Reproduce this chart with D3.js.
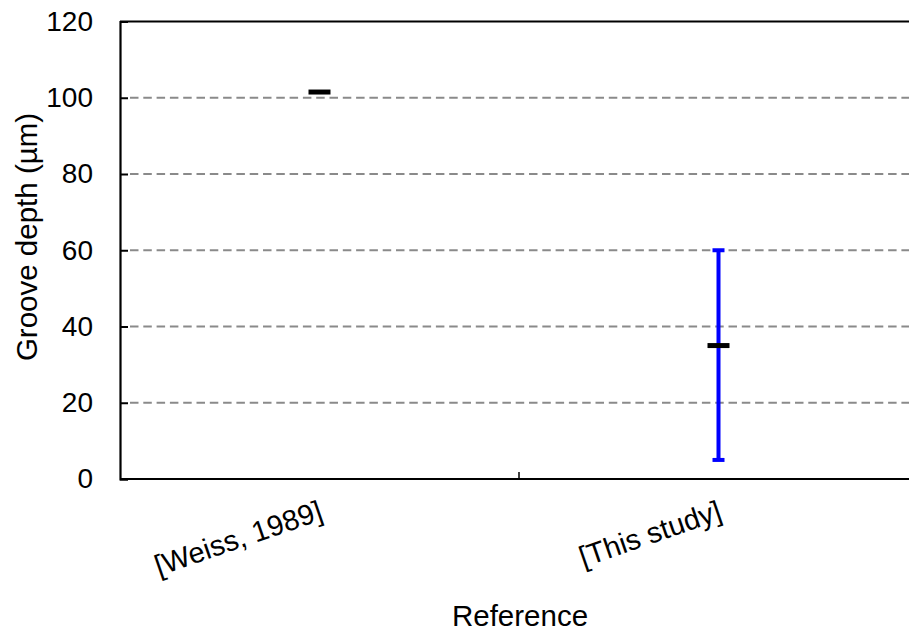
<!DOCTYPE html>
<html>
<head>
<meta charset="utf-8">
<script src="https://cdn.jsdelivr.net/npm/d3@7"></script>
<style>
  html, body { margin: 0; padding: 0; background: #fff; }
  svg { display: block; font-family: "Liberation Sans", Arial, sans-serif; }
</style>
</head>
<body>
<svg id="chart" width="909" height="634"></svg>
<script>
// Groove depth by reference
const categories = ["[Weiss, 1989]", "[This study]"];
const meanValues = [101.5, 35];
const errLow = [null, 5];
const errHigh = [null, 60];
const yTicks = [0, 20, 40, 60, 80, 100, 120];

const svg = d3.select("#chart");
const margin = { left: 120, top: 21.5, right: -9, bottom: 155 };
const W = 909, H = 634;
const x0 = margin.left, x1 = W - margin.right;
const yTop = margin.top, yBot = H - margin.bottom;

const x = d3.scaleBand().domain(categories).range([x0, x1]).padding(0);
const y = d3.scaleLinear().domain([0, 120]).range([yBot, yTop]);

// dashed gridlines
svg.append("g").selectAll("line")
  .data(yTicks.filter(t => t > 0 && t < 120))
  .join("line")
  .attr("x1", x0 + 10).attr("x2", x1)
  .attr("y1", d => y(d)).attr("y2", d => y(d))
  .attr("stroke", "#8a8a8a").attr("stroke-width", 2)
  .attr("stroke-dasharray", "8.5,4.8");

// top border
svg.append("line")
  .attr("x1", x0).attr("x2", x1).attr("y1", yTop).attr("y2", yTop)
  .attr("stroke", "#000").attr("stroke-width", 2.2);

// y axis
const yAxis = d3.axisLeft(y).tickValues(yTicks).tickSize(-8).tickPadding(27).tickFormat(d3.format("d"));
const gy = svg.append("g").attr("transform", `translate(${x0},0)`).call(yAxis);
gy.select(".domain").attr("stroke", "#000").attr("stroke-width", 2.2);
gy.selectAll(".tick line").attr("stroke", "#000").attr("stroke-width", 2);
gy.selectAll(".tick text").attr("font-size", 28).attr("fill", "#000")
  .attr("font-family", "Liberation Sans, Arial, sans-serif");

// x axis: boundary ticks between categories
const gx = svg.append("g").attr("transform", `translate(0,${yBot})`);
gx.append("line").attr("x1", x0).attr("x2", x1).attr("y1", 0).attr("y2", 0)
  .attr("stroke", "#000").attr("stroke-width", 2.2);
gx.selectAll("line.bnd").data(categories.slice(1)).join("line").attr("class", "bnd")
  .attr("x1", d => x(d)).attr("x2", d => x(d)).attr("y1", 0).attr("y2", -7)
  .attr("stroke", "#000").attr("stroke-width", 1.5);

// rotated category labels
gx.selectAll("text.cat").data(categories).join("text").attr("class", "cat")
  .attr("transform", d => `translate(${x(d) + x.bandwidth() / 2 + 5},40) rotate(-19)`)
  .attr("text-anchor", "end")
  .attr("font-size", 29)
  .attr("fill", "#000")
  .text(d => d);

// error bars
const capW = 12;
categories.forEach((c, i) => {
  if (errLow[i] == null) return;
  const cx = x(c) + x.bandwidth() / 2;
  const g = svg.append("g").attr("stroke", "#0000ff").attr("stroke-width", 4);
  g.append("line").attr("x1", cx).attr("x2", cx).attr("y1", y(errLow[i])).attr("y2", y(errHigh[i]));
  g.append("line").attr("x1", cx - capW / 2).attr("x2", cx + capW / 2).attr("y1", y(errLow[i])).attr("y2", y(errLow[i]));
  g.append("line").attr("x1", cx - capW / 2).attr("x2", cx + capW / 2).attr("y1", y(errHigh[i])).attr("y2", y(errHigh[i]));
});

// mean markers
svg.append("g").selectAll("line").data(categories).join("line")
  .attr("x1", d => x(d) + x.bandwidth() / 2 - 11)
  .attr("x2", d => x(d) + x.bandwidth() / 2 + 11)
  .attr("y1", (d, i) => y(meanValues[i]))
  .attr("y2", (d, i) => y(meanValues[i]))
  .attr("stroke", "#000").attr("stroke-width", 5);

// axis titles
svg.append("text")
  .attr("x", 520).attr("y", 626)
  .attr("text-anchor", "middle").attr("font-size", 29.5).attr("fill", "#000")
  .text("Reference");

svg.append("text")
  .attr("transform", `translate(37,237) rotate(-90)`)
  .attr("text-anchor", "middle").attr("font-size", 29.5).attr("fill", "#000")
  .text("Groove depth (µm)");
</script>
</body>
</html>
